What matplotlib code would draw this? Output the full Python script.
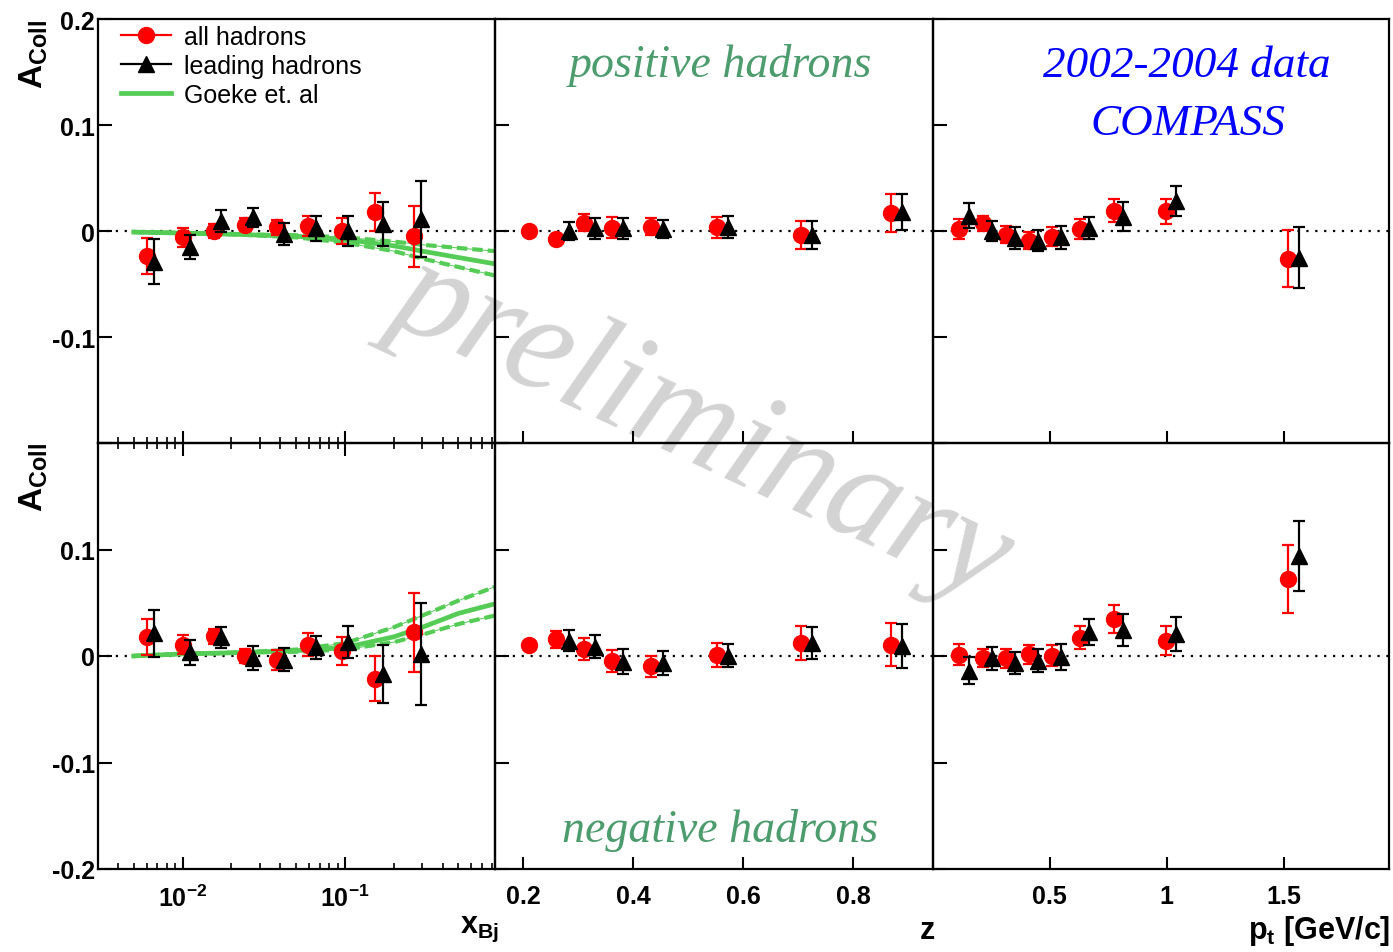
import matplotlib.pyplot as plt
import numpy as np
from matplotlib.lines import Line2D
from matplotlib.ticker import FixedLocator, FixedFormatter, LogLocator, NullFormatter, NullLocator

plt.rcParams['font.family'] = ['Liberation Sans', 'DejaVu Sans']
plt.rcParams['font.weight'] = 'bold'
plt.rcParams['mathtext.fontset'] = 'custom'
plt.rcParams['mathtext.rm'] = 'Liberation Sans:bold'
plt.rcParams['mathtext.bf'] = 'Liberation Sans:bold'
plt.rcParams['mathtext.it'] = 'Liberation Sans:bold'

# ---------------- data ----------------
# x_Bj bins
xbj_all = [0.0060, 0.0100, 0.0156, 0.0243, 0.038, 0.0593, 0.0955, 0.153, 0.267]
xbj_lead = [0.00665, 0.0111, 0.0173, 0.0272, 0.042, 0.0659, 0.105, 0.171, 0.294]
pos_xbj_all = [-0.024, -0.006, 0.0, 0.006, 0.0035, 0.0047, 0.0, 0.018, -0.005]
pos_xbj_all_err = [0.017, 0.009, 0.007, 0.006, 0.007, 0.009, 0.012, 0.018, 0.029]
pos_xbj_lead = [-0.029, -0.015, 0.0094, 0.0129, -0.0028, 0.0025, 0.0, 0.0066, 0.0113]
pos_xbj_lead_err = [0.021, 0.011, 0.010, 0.009, 0.010, 0.012, 0.014, 0.021, 0.036]
neg_xbj_all = [0.018, 0.0106, 0.0187, 0.0, -0.0037, 0.0106, 0.0047, -0.0212, 0.0224]
neg_xbj_all_err = [0.017, 0.009, 0.007, 0.007, 0.009, 0.011, 0.013, 0.021, 0.037]
neg_xbj_lead = [0.0215, 0.0034, 0.0175, -0.0019, -0.0034, 0.0081, 0.0131, -0.0171, 0.0019]
neg_xbj_lead_err = [0.022, 0.012, 0.010, 0.011, 0.011, 0.011, 0.015, 0.027, 0.048]

# Goeke et al. curves (x_Bj)
th_x = [0.005, 0.01, 0.02, 0.05, 0.1, 0.2, 0.3, 0.5, 0.84]
th_pos = [-0.001, -0.002, -0.003, -0.005, -0.008, -0.014, -0.019, -0.025, -0.031]
th_pos_hi = [-0.001, -0.002, -0.003, -0.004, -0.006, -0.010, -0.013, -0.016, -0.019]
th_pos_lo = [-0.001, -0.002, -0.003, -0.006, -0.011, -0.019, -0.026, -0.034, -0.042]
th_neg = [0.0, 0.002, 0.003, 0.005, 0.008, 0.018, 0.027, 0.040, 0.049]
th_neg_hi = [0.0, 0.002, 0.003, 0.006, 0.012, 0.027, 0.038, 0.052, 0.065]
th_neg_lo = [0.0, 0.002, 0.003, 0.004, 0.006, 0.013, 0.020, 0.030, 0.038]

# z bins
z_all = [0.211, 0.26, 0.31, 0.361, 0.433, 0.552, 0.705, 0.869]
z_lead = [0.283, 0.331, 0.382, 0.454, 0.573, 0.725, 0.888]
pos_z_all = [0.0, -0.008, 0.008, 0.003, 0.004, 0.0035, -0.0038, 0.0167]
pos_z_all_err = [0.003, 0.004, 0.008, 0.010, 0.008, 0.010, 0.013, 0.018]
pos_z_lead = [0.0, 0.0025, 0.0025, 0.0019, 0.0038, -0.0038, 0.0176]
pos_z_lead_err = [0.0085, 0.010, 0.010, 0.0085, 0.010, 0.0135, 0.017]
neg_z_all = [0.0106, 0.0157, 0.0066, -0.0047, -0.0097, 0.001, 0.0125, 0.0106]
neg_z_all_err = [0.003, 0.008, 0.010, 0.010, 0.010, 0.011, 0.016, 0.020]
neg_z_lead = [0.0145, 0.0088, -0.0053, -0.0066, 0.0003, 0.0125, 0.0094]
neg_z_lead_err = [0.010, 0.011, 0.012, 0.011, 0.011, 0.015, 0.021]

# p_t bins
pt_all = [0.115, 0.215, 0.313, 0.411, 0.509, 0.631, 0.775, 0.999, 1.52]
pt_lead = [0.157, 0.253, 0.351, 0.449, 0.548, 0.669, 0.813, 1.04, 1.565]
pos_pt_all = [0.0019, 0.0072, -0.0035, -0.0091, -0.0053, 0.0019, 0.0192, 0.0186, -0.026]
pos_pt_all_err = [0.009, 0.007, 0.008, 0.008, 0.009, 0.009, 0.011, 0.012, 0.027]
pos_pt_lead = [0.0145, 0.0003, -0.0069, -0.0091, -0.006, 0.0028, 0.0135, 0.0283, -0.0252]
pos_pt_lead_err = [0.0115, 0.0095, 0.0105, 0.010, 0.011, 0.0106, 0.0134, 0.014, 0.029]
neg_pt_all = [0.0012, -0.0019, -0.0022, 0.0016, 0.0003, 0.0173, 0.035, 0.0145, 0.0723]
neg_pt_all_err = [0.010, 0.0085, 0.009, 0.009, 0.010, 0.0104, 0.013, 0.014, 0.0315]
neg_pt_lead = [-0.0138, -0.0022, -0.0066, -0.0044, -0.0009, 0.0223, 0.0248, 0.0208, 0.0937]
neg_pt_lead_err = [0.0125, 0.0107, 0.0102, 0.0106, 0.012, 0.012, 0.015, 0.0157, 0.033]

W, H = 1393, 953
green = '#55cc55'


def fx(px):
    return px / W


def fy(py):
    return 1 - py / H


fig = plt.figure(figsize=(W / 100, H / 100), dpi=100)

cols = [(97.7, 495), (495, 932.5), (932.5, 1389)]
rows = [(20, 444), (444, 870)]
axes = {}
for r, (y0, y1) in enumerate(rows):
    for c, (x0, x1) in enumerate(cols):
        ax = fig.add_axes([fx(x0), fy(y1), fx(x1 - x0), (y1 - y0) / H])
        ax.set_facecolor('none')
        axes[(r, c)] = ax


def draw_points(ax, xa, ya, ea, xl, yl, el):
    ax.errorbar(xa, ya, yerr=ea, fmt='o', color='red', ms=11.5, elinewidth=1.6,
                capsize=4, capthick=1.6, zorder=3)
    ax.errorbar(xl, yl, yerr=el, fmt='^', color='black', ms=11.5, elinewidth=1.6,
                capsize=4, capthick=1.6, zorder=4)


sets = {
    (0, 0): (xbj_all, pos_xbj_all, pos_xbj_all_err, xbj_lead, pos_xbj_lead, pos_xbj_lead_err),
    (1, 0): (xbj_all, neg_xbj_all, neg_xbj_all_err, xbj_lead, neg_xbj_lead, neg_xbj_lead_err),
    (0, 1): (z_all, pos_z_all, pos_z_all_err, z_lead, pos_z_lead, pos_z_lead_err),
    (1, 1): (z_all, neg_z_all, neg_z_all_err, z_lead, neg_z_lead, neg_z_lead_err),
    (0, 2): (pt_all, pos_pt_all, pos_pt_all_err, pt_lead, pos_pt_lead, pos_pt_lead_err),
    (1, 2): (pt_all, neg_pt_all, neg_pt_all_err, pt_lead, neg_pt_lead, neg_pt_lead_err),
}

# theory curves
for r, (mid, hi, lo) in enumerate([(th_pos, th_pos_hi, th_pos_lo), (th_neg, th_neg_hi, th_neg_lo)]):
    ax = axes[(r, 0)]
    ax.plot(th_x, mid, color=green, lw=3.4, zorder=2)
    ax.plot(th_x, hi, color=green, lw=3.0, ls=(0, (2.5, 1.2)), zorder=2)
    ax.plot(th_x, lo, color=green, lw=3.0, ls=(0, (2.5, 1.2)), zorder=2)
    ax.plot(th_x, hi, color=green, lw=0.7, zorder=2)
    ax.plot(th_x, lo, color=green, lw=0.7, zorder=2)

xlims = [(0.003, 0.84), (0.149, 0.944), (0.0, 1.95)]
for (r, c), ax in axes.items():
    draw_points(ax, *sets[(r, c)])
    ax.axhline(0, color='black', ls=(0, (1, 3)), lw=1.6, zorder=1)
    if c == 0:
        ax.set_xscale('log')
    ax.set_xlim(*xlims[c])
    ax.set_ylim(-0.2, 0.2)
    for s in ax.spines.values():
        s.set_linewidth(1.6)
    ax.yaxis.set_major_locator(FixedLocator([-0.2, -0.1, 0.0, 0.1, 0.2]))
    if r == 0:
        ax.yaxis.set_major_formatter(FixedFormatter(['', '-0.1', '0', '0.1', '0.2']))
    else:
        ax.yaxis.set_major_formatter(FixedFormatter(['-0.2', '-0.1', '0', '0.1', '']))
    ax.yaxis.set_minor_locator(NullLocator())
    if c == 0:
        ax.xaxis.set_major_locator(FixedLocator([0.01, 0.1]))
        ax.xaxis.set_major_formatter(FixedFormatter([r'$\mathbf{10^{-2}}$', r'$\mathbf{10^{-1}}$']))
        ax.xaxis.set_minor_locator(LogLocator(base=10, subs=np.arange(2, 10)))
        ax.xaxis.set_minor_formatter(NullFormatter())
    elif c == 1:
        ax.xaxis.set_major_locator(FixedLocator([0.2, 0.4, 0.6, 0.8]))
        ax.xaxis.set_major_formatter(FixedFormatter(['0.2', '0.4', '0.6', '0.8']))
        ax.xaxis.set_minor_locator(NullLocator())
    else:
        ax.xaxis.set_major_locator(FixedLocator([0.5, 1.0, 1.5]))
        ax.xaxis.set_major_formatter(FixedFormatter(['0.5', '1', '1.5']))
        ax.xaxis.set_minor_locator(NullLocator())
    ax.tick_params(axis='both', which='both', direction='in', right=False,
                   top=(r == 1 and c == 0), labelsize=18)
    ax.tick_params(axis='y', which='major', length=10, width=1.5, pad=2,
                   labelleft=(c == 0))
    ax.tick_params(axis='x', which='major', length=9, width=1.5, pad=11,
                   labelbottom=(r == 1))
    ax.tick_params(axis='x', which='minor', length=4.5, width=1.2)

# axis titles
fig.text(fx(34), fy(20), r'$\mathbf{A_{Coll}}$', rotation=90, ha='center', va='top', fontsize=24)
fig.text(fx(34), fy(443), r'$\mathbf{A_{Coll}}$', rotation=90, ha='center', va='top', fontsize=24)
fig.text(fx(499), fy(929), r'$\mathbf{x_{Bj}}$', ha='right', va='center', fontsize=22)
fig.text(fx(935), fy(931), 'z', ha='right', va='center', fontsize=22)
fig.text(fx(1390), fy(931), r'$\mathbf{p_t}$ [GeV/c]', ha='right', va='center', fontsize=22)

# legend
handles = [
    Line2D([], [], color='red', marker='o', ms=11.5, lw=1.6),
    Line2D([], [], color='black', marker='^', ms=11.5, lw=1.6),
    Line2D([], [], color=green, lw=3.4),
]
fig.legend(handles, ['all hadrons', 'leading hadrons', 'Goeke et. al'],
           loc='upper left', bbox_to_anchor=(fx(121), fy(26)), frameon=False,
           prop={'family': 'Liberation Sans', 'weight': 'normal', 'size': 18},
           handlelength=2.0, handletextpad=0.5, labelspacing=0.2,
           borderpad=0, borderaxespad=0)

# panel captions
serif_it = dict(family='Liberation Serif', style='italic', weight='normal')
fig.text(fx(720), fy(77), 'positive hadrons', ha='center', va='baseline',
         fontsize=33, color='#4c9c6e', **serif_it)
fig.text(fx(720), fy(842), 'negative hadrons', ha='center', va='baseline',
         fontsize=33, color='#4c9c6e', **serif_it)
fig.text(fx(1187), fy(77), '2002-2004 data', ha='center', va='baseline',
         fontsize=32.5, color='#0000ff', **serif_it)
fig.text(fx(1188), fy(135), 'COMPASS', ha='center', va='baseline',
         fontsize=32.5, color='#0000ff', **serif_it)

# watermark
fig.text(fx(702), fy(426), 'preliminary', rotation=-25, ha='center', va='center',
         fontsize=102, color='#d3d3d3', zorder=-1, rotation_mode='anchor', **serif_it)

fig.savefig('out.png', dpi=100, facecolor='white')
